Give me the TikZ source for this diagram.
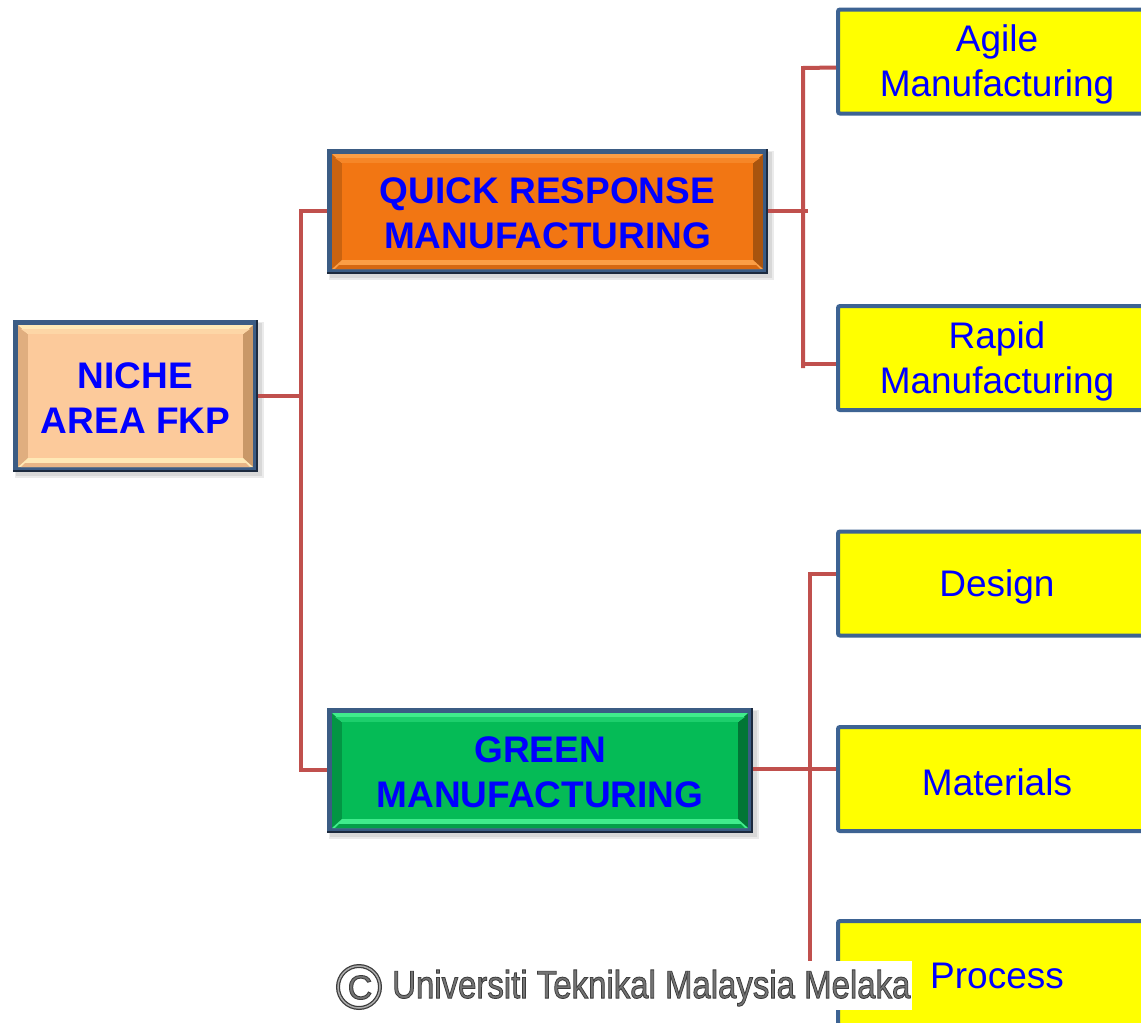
\documentclass[tikz,border=0pt]{standalone}
\usepackage{fontspec}
\setmainfont{Liberation Sans}
\usepackage{graphicx}
\definecolor{conn}{HTML}{C0504D}
\definecolor{bvborder}{HTML}{3B5C84}
\definecolor{bvdeep}{HTML}{1C2A3E}
\definecolor{ybord}{HTML}{3D6393}
\definecolor{yfill}{HTML}{FFFF00}
\definecolor{txtblue}{HTML}{0000FF}
\definecolor{orface}{HTML}{F27613}
\definecolor{orlight}{HTML}{FB9E45}
\definecolor{ordark}{HTML}{A9540E}
\definecolor{niface}{HTML}{FCCA9B}
\definecolor{nilight}{HTML}{FFE9B6}
\definecolor{nidark}{HTML}{C99868}
\definecolor{grface}{HTML}{05BB56}
\definecolor{grlight}{HTML}{40EC8C}
\definecolor{grdark}{HTML}{027636}
\definecolor{wmgray}{HTML}{747474}
\definecolor{wmdark}{HTML}{3C3C3C}
\tikzset{
  bvtext/.style={inner sep=0pt, align=center, text=txtblue,
    font=\fontsize{37}{44.5}\selectfont\bfseries},
  ybox/.style={draw=ybord, line width=4pt, fill=yfill, rounded corners=2pt,
    minimum width=318pt, minimum height=104pt, inner sep=0pt},
  ytext/.style={inner sep=0pt, align=center, text=txtblue,
    font=\fontsize{37}{45}\selectfont},
  connector/.style={draw=conn, line width=4pt},
}
\newcommand\bvbox[9]{%
  \fill[black, opacity=0.08] (#2+2,#3+2) rectangle (#4+6,#5+6);
  \fill[black, opacity=0.08] (#2+3,#3+3) rectangle (#4+4,#5+4);
  \fill[bvdeep] (#2,#3) rectangle (#4,#5);
  \fill[bvborder] (#2,#3) rectangle (#4-2,#5-2);
  \fill[#8] (#2+5,#3+5) rectangle (#4-5,#5-5);
  \fill[#8!55!#6] (#2+5,#3+5) -- (#2+15,#3+14) -- (#2+15,#5-14) -- (#2+5,#5-5) -- cycle;
  \fill[#7] (#2+5,#3+5) -- (#4-5,#3+5) -- (#4-15,#3+14) -- (#2+15,#3+14) -- cycle;
  \fill[#6!60!#7] (#2+8,#3+9) -- (#4-8,#3+9) -- (#4-15,#3+14) -- (#2+15,#3+14) -- cycle;
  \fill[#7] (#2+5,#5-5) -- (#4-5,#5-5) -- (#4-15,#5-14) -- (#2+15,#5-14) -- cycle;
  \fill[#8!40!#6] (#2+8,#5-5) -- (#4-8,#5-5) -- (#4-12,#5-9) -- (#2+12,#5-9) -- cycle;
  \fill[#6] (#2+15,#3+14) rectangle (#4-15,#5-14);
  \node[inner sep=0pt, minimum width={(#4-#2)*1pt}, minimum height={(#5-#3)*1pt}]
    (#1) at ({(#2+#4)/2},{(#3+#5)/2}) {};
  \node[bvtext] (#1text) at ([yshift=-2pt]#1.center) {#9};
}
\newcommand\strokedtext[1]{\special{pdf:literal direct 2 Tr 0.9 w 0.24 0.24 0.24 RG}#1\special{pdf:literal direct 0 Tr}}
\begin{document}
\begin{tikzpicture}[x=1pt,y=-1pt]
\useasboundingbox (0,0) rectangle (1141,1023);
\clip (0,0) rectangle (1141,1023);
\fill[white] (0,0) rectangle (1141,1023);

\coordinate (j1) at (301,396);
\coordinate (j2) at (808,212);

% bevel boxes
\bvbox{niche}{13}{320}{258}{472}{niface}{nilight}{nidark}{NICHE\\AREA FKP}
\bvbox{qrm}{327}{149}{768}{274}{orface}{orlight}{ordark}{QUICK RESPONSE\\MANUFACTURING}
\bvbox{green}{327}{708}{753}{833}{grface}{grlight}{grdark}{GREEN\\MANUFACTURING}

% yellow boxes
\node[ybox] (agile) at (997,61.5) {};
\node[ytext] (agiletext) at ([yshift=-3pt]agile.center) {Agile\\Manufacturing};
\node[ybox] (rapid) at (997,358) {};
\node[ytext] (rapidtext) at ([yshift=-3pt]rapid.center) {Rapid\\Manufacturing};
\node[ybox] (design) at (997,583.5) {};
\node[ytext] (designtext) at ([yshift=-3pt]design.center) {Design};
\node[ybox] (materials) at (997,779) {};
\node[ytext] (materialstext) at ([yshift=-3pt]materials.center) {Materials};
\node[ybox] (process) at (997,973) {};
\node[ytext] (processtext) at ([yshift=-3pt]process.center) {Process};

% connectors
\draw[connector] (niche.east |- j1) -- (j1);
\draw[connector] (qrm.west |- 0,211) -- (301,211) -- (301,770) -- (green.west |- 0,770);
\draw[connector] (qrm.east |- 0,211) -- (j2 |- 0,211);
\draw[connector] ([yshift=-6pt]agile.west) -- (803,68) -- (803,368);
\draw[connector] ([yshift=-6pt]rapid.west) -- (803,364);
\draw[connector] (green.east |- 0,769) -- (materials.west |- 0,769);
\draw[connector] ([yshift=9.5pt]design.west) -- (810,574) -- (810,975) -- (process.west |- 0,975);

% watermark
\fill[white] (333,961) rectangle (912,1010);
\draw[wmdark, line width=4pt] (359,987) circle (21);
\draw[wmgray!60!white, line width=1.5pt] (359,987) circle (21);
\node[inner sep=0pt, text=wmgray, font=\fontsize{34}{34}\selectfont] (wmc) at (360,987.5) {\strokedtext{C}};
\node[inner sep=0pt, anchor=west, text=wmgray, font=\fontsize{39}{39}\selectfont] (wm) at (392,988)
  {\scalebox{0.845}[1]{\strokedtext{Universiti Teknikal Malaysia Melaka}}};
\end{tikzpicture}
\end{document}
